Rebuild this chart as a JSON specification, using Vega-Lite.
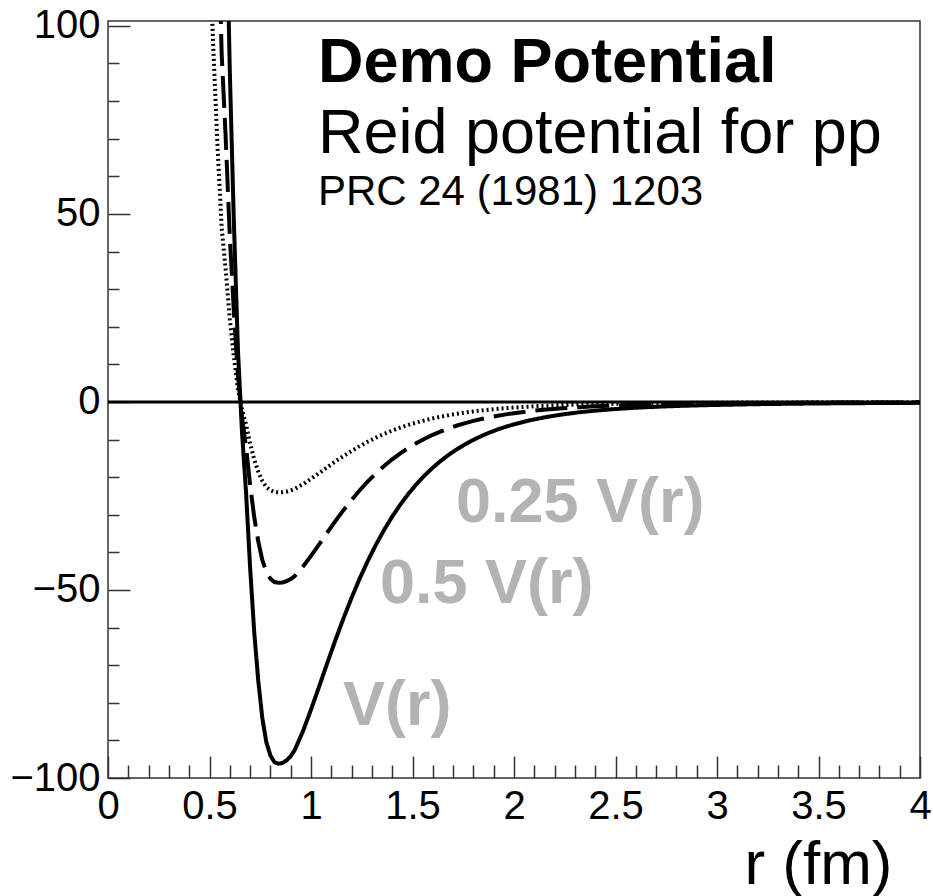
{
  "$schema": "https://vega.github.io/schema/vega-lite/v6.json",
  "width": 812,
  "height": 757,
  "autosize": {"type": "none"},
  "padding": {"left": 108, "top": 21, "right": 13, "bottom": 118},
  "background": "white",
  "config": {
    "view": {"stroke": "#333333", "strokeWidth": 1.5},
    "font": "Liberation Sans"
  },
  "encoding": {
    "x": {
      "field": "r", "type": "quantitative",
      "scale": {"domain": [0, 4], "nice": false, "zero": false},
      "axis": {
        "values": [0,0.1,0.2,0.3,0.4,0.5,0.6,0.7,0.8,0.9,1,1.1,1.2,1.3,1.4,1.5,1.6,1.7,1.8,1.9,2,2.1,2.2,2.3,2.4,2.5,2.6,2.7,2.8,2.9,3,3.1,3.2,3.3,3.4,3.5,3.6,3.7,3.8,3.9,4],
        "labelExpr": "abs(datum.value*2-round(datum.value*2))<0.001 ? format(datum.value, '~f') : ''",
        "tickSize": {"condition": {"test": "abs(datum.value*2-round(datum.value*2))<0.001", "value": -22}, "value": -13},
        "labelPadding": 30,
        "labelFontSize": 40,
        "labelFont": "Liberation Sans",
        "labelColor": "black",
        "labelFlush": false,
        "labelOverlap": false,
        "labelBaseline": "top",
        "tickColor": "#333333",
        "tickWidth": 1.5,
        "domain": false,
        "grid": false,
        "title": "r (fm)",
        "titleFont": "Liberation Sans",
        "titleFontSize": 62,
        "titleFontWeight": "normal",
        "titleColor": "black",
        "titleX": 784,
        "titleY": 105,
        "titleAlign": "right",
        "titleBaseline": "alphabetic",
        "titleAnchor": "end"
      }
    },
    "y": {
      "field": "val", "type": "quantitative",
      "scale": {"domain": [-100, 101.3], "nice": false, "zero": false},
      "axis": {
        "values": [-100,-90,-80,-70,-60,-50,-40,-30,-20,-10,0,10,20,30,40,50,60,70,80,90,100],
        "labelExpr": "abs(datum.value % 50)<0.001 ? format(datum.value, '~f') : ''",
        "tickSize": {"condition": {"test": "abs(datum.value % 50)<0.001", "value": -22}, "value": -11},
        "labelPadding": 30,
        "labelFontSize": 40,
        "labelFont": "Liberation Sans",
        "labelColor": "black",
        "labelFlush": false,
        "labelOverlap": false,
        "tickColor": "#333333",
        "tickWidth": 1.5,
        "domain": false,
        "grid": false,
        "title": null
      }
    }
  },
  "layer": [
    {
      "data": {
        "values": [
          {"r": 0.48, "V": 620, "h": 310, "q": 155},
          {"r": 0.50, "V": 480, "h": 240, "q": 120},
          {"r": 0.52, "V": 370, "h": 185, "q": 92.5},
          {"r": 0.54, "V": 270, "h": 135, "q": 67.5},
          {"r": 0.56, "V": 185, "h": 92.5, "q": 46.25},
          {"r": 0.58, "V": 140, "h": 70, "q": 35},
          {"r": 0.60, "V": 88, "h": 44, "q": 22},
          {"r": 0.62, "V": 48, "h": 24, "q": 12},
          {"r": 0.64, "V": 14, "h": 7, "q": 3.5},
          {"r": 0.66, "V": -8, "h": -4, "q": -2},
          {"r": 0.68, "V": -24, "h": -12, "q": -6},
          {"r": 0.70, "V": -44, "h": -22, "q": -11},
          {"r": 0.72, "V": -61, "h": -30.5, "q": -15.25},
          {"r": 0.74, "V": -74, "h": -37, "q": -18.5},
          {"r": 0.76, "V": -84, "h": -42, "q": -21},
          {"r": 0.78, "V": -90.5, "h": -45.25, "q": -22.63},
          {"r": 0.80, "V": -94, "h": -47, "q": -23.5},
          {"r": 0.82, "V": -95.8, "h": -47.9, "q": -23.95},
          {"r": 0.84, "V": -96.2, "h": -48.1, "q": -24.05},
          {"r": 0.86, "V": -96.0, "h": -48.0, "q": -24.0},
          {"r": 0.88, "V": -95.3, "h": -47.65, "q": -23.83},
          {"r": 0.90, "V": -94.2, "h": -47.1, "q": -23.55},
          {"r": 0.92, "V": -92.56, "h": -46.28, "q": -23.14},
          {"r": 0.96, "V": -87.61, "h": -43.81, "q": -21.90},
          {"r": 1.00, "V": -81.83, "h": -40.92, "q": -20.46},
          {"r": 1.04, "V": -75.69, "h": -37.85, "q": -18.92},
          {"r": 1.08, "V": -69.46, "h": -34.73, "q": -17.37},
          {"r": 1.12, "V": -63.37, "h": -31.69, "q": -15.84},
          {"r": 1.16, "V": -57.55, "h": -28.78, "q": -14.39},
          {"r": 1.20, "V": -52.05, "h": -26.03, "q": -13.01},
          {"r": 1.24, "V": -46.94, "h": -23.47, "q": -11.74},
          {"r": 1.28, "V": -42.26, "h": -21.13, "q": -10.57},
          {"r": 1.32, "V": -37.95, "h": -18.98, "q": -9.49},
          {"r": 1.36, "V": -34.03, "h": -17.02, "q": -8.51},
          {"r": 1.40, "V": -30.49, "h": -15.25, "q": -7.62},
          {"r": 1.44, "V": -27.29, "h": -13.65, "q": -6.82},
          {"r": 1.48, "V": -24.41, "h": -12.21, "q": -6.10},
          {"r": 1.52, "V": -21.84, "h": -10.92, "q": -5.46},
          {"r": 1.56, "V": -19.53, "h": -9.77, "q": -4.88},
          {"r": 1.60, "V": -17.47, "h": -8.74, "q": -4.37},
          {"r": 1.64, "V": -15.64, "h": -7.82, "q": -3.91},
          {"r": 1.68, "V": -13.99, "h": -7.00, "q": -3.50},
          {"r": 1.72, "V": -12.53, "h": -6.27, "q": -3.13},
          {"r": 1.76, "V": -11.23, "h": -5.62, "q": -2.81},
          {"r": 1.80, "V": -10.08, "h": -5.04, "q": -2.52},
          {"r": 1.84, "V": -9.05, "h": -4.53, "q": -2.26},
          {"r": 1.88, "V": -8.13, "h": -4.07, "q": -2.03},
          {"r": 1.92, "V": -7.31, "h": -3.66, "q": -1.83},
          {"r": 1.96, "V": -6.59, "h": -3.30, "q": -1.65},
          {"r": 2.00, "V": -5.95, "h": -2.98, "q": -1.49},
          {"r": 2.08, "V": -4.86, "h": -2.43, "q": -1.22},
          {"r": 2.16, "V": -4.00, "h": -2.00, "q": -1.00},
          {"r": 2.24, "V": -3.31, "h": -1.66, "q": -0.83},
          {"r": 2.32, "V": -2.75, "h": -1.38, "q": -0.69},
          {"r": 2.40, "V": -2.32, "h": -1.16, "q": -0.58},
          {"r": 2.48, "V": -1.96, "h": -0.98, "q": -0.49},
          {"r": 2.56, "V": -1.67, "h": -0.84, "q": -0.42},
          {"r": 2.64, "V": -1.43, "h": -0.72, "q": -0.36},
          {"r": 2.72, "V": -1.24, "h": -0.62, "q": -0.31},
          {"r": 2.80, "V": -1.08, "h": -0.54, "q": -0.27},
          {"r": 2.88, "V": -0.95, "h": -0.48, "q": -0.24},
          {"r": 2.96, "V": -0.84, "h": -0.42, "q": -0.21},
          {"r": 3.20, "V": -0.59, "h": -0.30, "q": -0.15},
          {"r": 3.40, "V": -0.46, "h": -0.23, "q": -0.12},
          {"r": 3.60, "V": -0.36, "h": -0.18, "q": -0.09},
          {"r": 3.80, "V": -0.29, "h": -0.15, "q": -0.07},
          {"r": 4.00, "V": -0.24, "h": -0.12, "q": -0.06}
        ]
      },
      "transform": [{"fold": ["V", "h", "q"], "as": ["s", "val"]}],
      "mark": {"type": "line", "color": "black", "clip": true, "strokeCap": "butt"},
      "encoding": {
        "strokeDash": {
          "field": "s", "type": "nominal",
          "scale": {"domain": ["V", "h", "q"], "range": [[1, 0], [32, 10], [2, 3]]},
          "legend": null
        },
        "strokeWidth": {
          "field": "s", "type": "nominal",
          "scale": {"domain": ["V", "h", "q"], "range": [4, 4, 2.5]},
          "legend": null
        }
      }
    },
    {
      "data": {"values": [{"r": 0, "val": 0}, {"r": 4, "val": 0}]},
      "mark": {"type": "line", "color": "black", "strokeWidth": 3},
      "encoding": {}
    },
    {
      "data": {"values": [{"r": 1.034, "val": 85.1, "t": "Demo Potential"}]},
      "mark": {"type": "text", "font": "Liberation Sans", "fontSize": 63, "fontWeight": "bold", "align": "left", "baseline": "alphabetic", "color": "black"},
      "encoding": {"text": {"field": "t"}}
    },
    {
      "data": {"values": [{"r": 1.034, "val": 66.2, "t": "Reid potential for pp"}]},
      "mark": {"type": "text", "font": "Liberation Sans", "fontSize": 63, "align": "left", "baseline": "alphabetic", "color": "black"},
      "encoding": {"text": {"field": "t"}}
    },
    {
      "data": {"values": [{"r": 1.034, "val": 52.4, "t": "PRC 24 (1981) 1203"}]},
      "mark": {"type": "text", "font": "Liberation Sans", "fontSize": 42, "align": "left", "baseline": "alphabetic", "color": "black"},
      "encoding": {"text": {"field": "t"}}
    },
    {
      "data": {"values": [
        {"r": 1.714, "val": -31.9, "t": "0.25 V(r)"},
        {"r": 1.340, "val": -53.5, "t": "0.5 V(r)"},
        {"r": 1.158, "val": -85.9, "t": "V(r)"}
      ]},
      "mark": {"type": "text", "font": "Liberation Sans", "fontSize": 63, "fontWeight": "bold", "align": "left", "baseline": "alphabetic", "color": "#b3b3b3"},
      "encoding": {"text": {"field": "t"}}
    }
  ]
}
